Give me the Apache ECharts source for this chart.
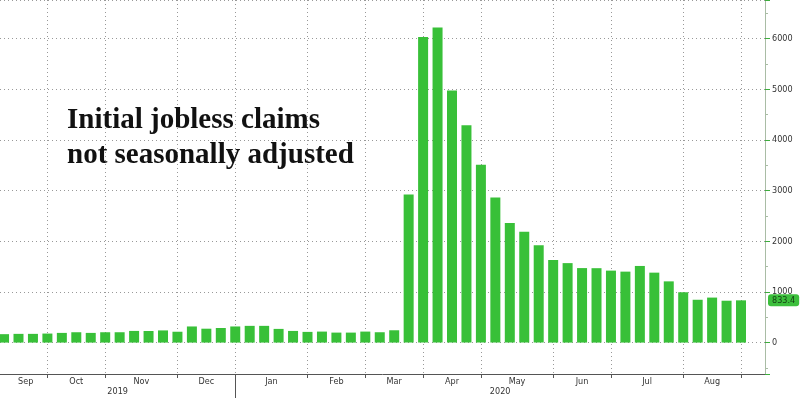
<!DOCTYPE html>
<html>
<head>
<meta charset="utf-8">
<script src="https://cdn.jsdelivr.net/npm/echarts@6/dist/echarts.min.js"></script>
<style>
html, body { margin: 0; padding: 0; background: #fff; }
#chart { width: 800px; height: 398px; }
</style>
</head>
<body>
<div id="chart"></div>
<script>
// weekly initial jobless claims, not seasonally adjusted (thousands)
var claims = [
  166, 172, 172, 178, 191, 204, 191, 204, 204, 230, 228, 240, 214, 318,
  274, 288, 318, 330, 330, 270, 230, 211, 217, 197, 197, 217, 204, 243,
  2920, 6030, 6215, 4972, 4287, 3510, 2862, 2360, 2188, 1920, 1630, 1568,
  1470, 1468, 1420, 1400, 1512, 1380, 1208, 993, 845, 888, 826, 833.4
]
// week index where each month starts
var monthStart = [0, 3, 7, 12, 16, 21, 25, 29, 33, 38, 42, 47, 51]
var monthNames = ['Sep', 'Oct', 'Nov', 'Dec', 'Jan', 'Feb', 'Mar', 'Apr', 'May', 'Jun', 'Jul', 'Aug']
var yearNames = ['2019', '2020']
var yearBreak = 16

var xMin = -0.28
var xMax = 52.66
var axisFont = 'DejaVu Sans Condensed, Liberation Sans Narrow, sans-serif'

var barData = claims.map(function (v, i) { return [i, v] })
var monthPos = monthNames.map(function (m, k) { return (monthStart[k] + monthStart[k + 1]) / 2 })
var yearPos = [(xMin + yearBreak) / 2, (yearBreak + xMax) / 2]
var last = claims[claims.length - 1]

var myChart = echarts.init(document.getElementById('chart'))
myChart.setOption({
  animation: false,
  title: {
    text: 'Initial jobless claims\nnot seasonally adjusted',
    left: 62,
    top: 98,
    textStyle: {
      fontFamily: 'Liberation Serif, serif',
      fontWeight: 'bold',
      fontSize: 29,
      lineHeight: 35,
      color: '#111'
    }
  },
  grid: { left: 0, right: 35, top: 0, bottom: 24, outerBoundsMode: 'none' },
  xAxis: [
    {
      type: 'value',
      min: xMin,
      max: xMax,
      axisLine: { show: true, onZero: false, lineStyle: { color: '#555' } },
      axisTick: { show: true, customValues: monthStart.slice(1), length: 4, lineStyle: { color: '#555' } },
      axisLabel: {
        customValues: monthPos,
        margin: 3,
        fontSize: 9,
        fontFamily: axisFont,
        color: '#333',
        formatter: function (v) { return monthNames[monthPos.indexOf(v)] }
      },
      splitLine: { show: true, lineStyle: { type: [1, 3], color: '#999' } }
    },
    {
      type: 'value',
      min: xMin,
      max: xMax,
      position: 'bottom',
      axisLine: { show: false, onZero: false },
      axisTick: { show: true, customValues: [yearBreak], length: 24, lineStyle: { color: '#555' } },
      axisLabel: {
        customValues: yearPos,
        margin: 13,
        fontSize: 9,
        fontFamily: axisFont,
        color: '#333',
        formatter: function (v) { return yearNames[yearPos.indexOf(v)] }
      },
      splitLine: { show: false }
    }
  ],
  yAxis: {
    type: 'value',
    position: 'right',
    min: -620,
    max: 6760,
    splitNumber: 7,
    axisLine: { show: true, onZero: false, lineStyle: { color: '#a9bca5' } },
    axisTick: { show: true, length: 5, lineStyle: { color: '#3cae3c' } },
    minorTick: { show: true, splitNumber: 2, length: 3, lineStyle: { color: '#a9bca5' } },
    axisLabel: {
      showMinLabel: false,
      showMaxLabel: false,
      margin: 7,
      fontSize: 9,
      fontFamily: axisFont,
      color: '#333',
      formatter: function (v) { return String(v) }
    },
    splitLine: { show: true, lineStyle: { type: [1, 3], color: '#999' } }
  },
  series: [
    {
      type: 'bar',
      barWidth: 10,
      itemStyle: { color: '#38c038' },
      data: barData,
      markLine: {
        silent: true,
        symbol: 'none',
        lineStyle: { color: 'transparent' },
        data: [{ yAxis: last }],
        label: {
          position: 'end',
          distance: 3,
          formatter: last.toFixed(1),
          backgroundColor: '#3cbf3c',
          color: '#143d14',
          fontSize: 9,
          fontFamily: axisFont,
          padding: [2, 4, 1, 4],
          borderRadius: 3
        }
      }
    }
  ]
})
</script>
</body>
</html>
